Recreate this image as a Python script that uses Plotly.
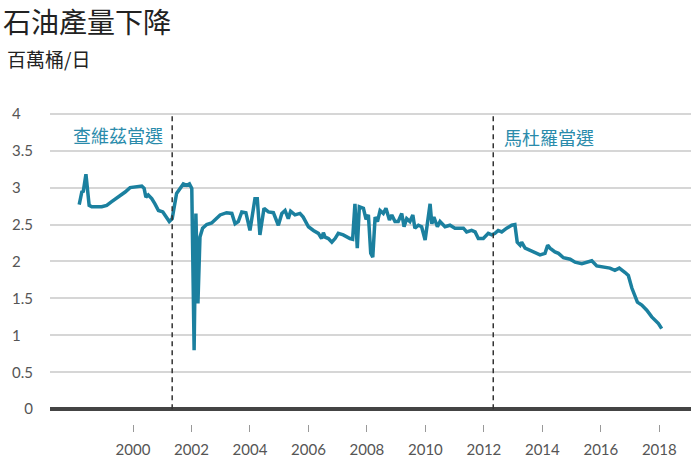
import plotly.graph_objects as go

# ---- data ----
years = [1998.16, 1998.25, 1998.30, 1998.39, 1998.50, 1998.59, 1998.93, 1999.10, 1999.27, 1999.50,
         1999.73, 1999.90, 2000.07, 2000.30, 2000.38, 2000.44, 2000.52, 2000.64, 2000.75, 2000.87,
         2001.02, 2001.24, 2001.34, 2001.49, 2001.72, 2001.84, 2001.93, 2002.01, 2002.09, 2002.15,
         2002.22, 2002.29, 2002.38, 2002.52, 2002.69, 2002.80, 2002.98, 2003.20, 2003.38, 2003.49,
         2003.60, 2003.72, 2003.86, 2004.00, 2004.17, 2004.25, 2004.34, 2004.48, 2004.63, 2004.80,
         2004.97, 2005.09, 2005.20, 2005.31, 2005.39, 2005.54, 2005.71, 2005.82, 2006.00, 2006.17,
         2006.34, 2006.45, 2006.51, 2006.57, 2006.68, 2006.80, 2006.91, 2007.02, 2007.19, 2007.42,
         2007.51, 2007.59, 2007.67, 2007.74, 2007.88, 2007.97, 2008.05, 2008.13, 2008.20, 2008.28,
         2008.36, 2008.45, 2008.56, 2008.65, 2008.77, 2008.85, 2008.96, 2009.07, 2009.19, 2009.27,
         2009.36, 2009.47, 2009.57, 2009.64, 2009.76, 2009.87, 2009.99, 2010.16, 2010.22, 2010.29,
         2010.41, 2010.50, 2010.67, 2010.84, 2011.01, 2011.18, 2011.30, 2011.41, 2011.58, 2011.70,
         2011.81, 2011.98, 2012.15, 2012.27, 2012.38, 2012.49, 2012.61, 2012.78, 2012.95, 2013.06,
         2013.14, 2013.24, 2013.29, 2013.41, 2013.58, 2013.75, 2013.92, 2014.09, 2014.18, 2014.26,
         2014.43, 2014.55, 2014.72, 2014.95, 2015.12, 2015.35, 2015.52, 2015.69, 2015.86, 2016.08,
         2016.31, 2016.48, 2016.63, 2016.83, 2016.94, 2017.06, 2017.13, 2017.25, 2017.40, 2017.57,
         2017.74, 2017.85, 2017.97, 2018.08]
production = [2.77, 2.94, 2.95, 3.18, 2.76, 2.74, 2.74, 2.76, 2.81, 2.87,
              2.94, 3.00, 3.01, 3.02, 2.99, 2.87, 2.90, 2.85, 2.78, 2.69,
              2.67, 2.54, 2.58, 2.92, 3.05, 3.03, 3.05, 2.99, 0.80, 2.65,
              1.43, 2.33, 2.45, 2.50, 2.52, 2.56, 2.63, 2.66, 2.65, 2.51,
              2.54, 2.67, 2.66, 2.42, 2.85, 2.85, 2.36, 2.72, 2.67, 2.66,
              2.49, 2.65, 2.69, 2.58, 2.68, 2.63, 2.65, 2.60, 2.47, 2.42,
              2.38, 2.31, 2.39, 2.33, 2.31, 2.26, 2.31, 2.38, 2.36, 2.31,
              2.30, 2.78, 2.18, 2.74, 2.72, 2.57, 2.63, 2.11, 2.06, 2.60,
              2.54, 2.69, 2.65, 2.72, 2.56, 2.63, 2.54, 2.54, 2.65, 2.47,
              2.58, 2.54, 2.63, 2.45, 2.49, 2.47, 2.29, 2.78, 2.51, 2.60,
              2.47, 2.54, 2.47, 2.49, 2.45, 2.45, 2.45, 2.40, 2.42, 2.40,
              2.31, 2.31, 2.38, 2.36, 2.38, 2.42, 2.40, 2.45, 2.49, 2.50,
              2.26, 2.22, 2.26, 2.18, 2.15, 2.13, 2.09, 2.11, 2.22, 2.18,
              2.13, 2.11, 2.05, 2.03, 1.99, 1.97, 1.99, 2.01, 1.94, 1.93,
              1.91, 1.88, 1.91, 1.85, 1.81, 1.64, 1.57, 1.45, 1.41, 1.34,
              1.25, 1.20, 1.16, 1.09]

event_years = [2001.34, 2012.32]
event_labels = ["查維茲當選", "馬杜羅當選"]
event_label_x = [1999.47, 2014.21]
event_label_y = [3.71, 3.69]

x_ticks = [2000, 2002, 2004, 2006, 2008, 2010, 2012, 2014, 2016, 2018]
y_ticks = [0, 0.5, 1, 1.5, 2, 2.5, 3, 3.5, 4]
HIDE = "<span style='color:rgba(0,0,0,0)'>.0</span>"
y_tick_text = ["0", "0.5", "1" + HIDE, "1.5", "2" + HIDE, "2.5", "3" + HIDE, "3.5", "4" + HIDE]

title_text = "石油產量下降"
subtitle_text = "百萬桶/日"

# ---- styling ----
LINE_COLOR = "#1b809f"
NUM_FONT = "Lato, 'Noto Sans', sans-serif"
CJK_FONT = "'Noto Sans CJK TC', 'Noto Sans CJK SC', sans-serif"

fig = go.Figure()
fig.add_trace(go.Scatter(
    x=years, y=production, mode="lines",
    line=dict(color=LINE_COLOR, width=3.5),
    hoverinfo="x+y", showlegend=False,
))

for ex in event_years:
    fig.add_shape(type="line", xref="x", yref="y", x0=ex, x1=ex, y0=0, y1=4,
                  line=dict(color="#333333", width=1.5, dash="5px,4px"), layer="above")

for lx, ly, lt in zip(event_label_x, event_label_y, event_labels):
    fig.add_annotation(x=lx, y=ly, xref="x", yref="y", text=lt, showarrow=False,
                       font=dict(family=CJK_FONT, size=18, color="#2a8bab"),
                       xanchor="center", yanchor="middle")

fig.add_annotation(xref="paper", yref="paper", x=-0.070, y=1.1656, text=subtitle_text,
                   showarrow=False, xanchor="left", yanchor="middle",
                   font=dict(family=CJK_FONT, size=19, color="#222222"))

fig.update_layout(
    width=698, height=463,
    margin=dict(l=50, r=7, t=110, b=39, autoexpand=False),
    paper_bgcolor="white", plot_bgcolor="white",
    title=dict(text=title_text, x=3 / 698, xref="container", xanchor="left",
               y=1 - 23 / 463, yref="container", yanchor="middle",
               font=dict(family=CJK_FONT, size=28, color="#222222")),
    xaxis=dict(range=[1997.161, 2019.083], tickvals=x_ticks,
               ticktext=[str(t) for t in x_ticks], automargin=False,
               showgrid=False, zeroline=False, showline=False,
               ticks="outside", ticklen=7, tickwidth=1.2, tickcolor="#999999",
               ticklabelstandoff=5,
               tickfont=dict(family=NUM_FONT, size=15, color="#555555")),
    yaxis=dict(range=[-0.2, 4.05], tickvals=y_ticks, ticktext=y_tick_text,
               automargin=False,
               showgrid=True, gridcolor="#d6d6d6", gridwidth=2,
               zeroline=True, zerolinecolor="#444444", zerolinewidth=4,
               showline=False, ticks="", ticklabelstandoff=16,
               tickfont=dict(family=NUM_FONT, size=15, color="#555555")),
)

# remove the browser's default page margin so the figure sits at the window origin
fig.write_html("out.html", config={"displayModeBar": False},
               post_script="document.body.style.margin='0';")
